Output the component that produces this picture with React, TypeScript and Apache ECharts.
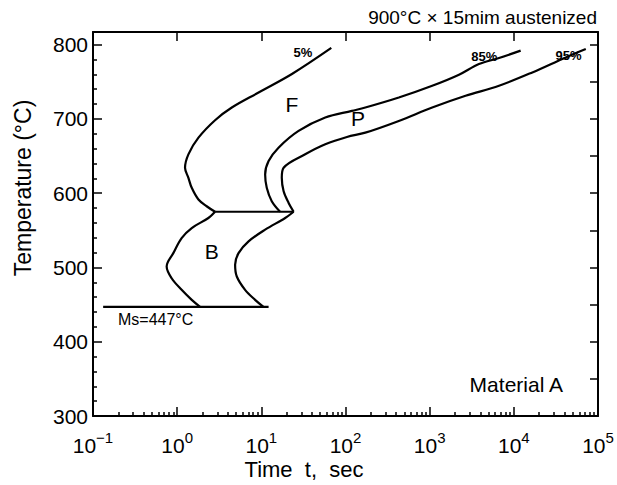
import React, { useEffect, useRef } from "react";
import * as echarts from "echarts";

// ---- data (time in seconds, temperature in °C) ----
const xExponents = [-1, 0, 1, 2, 3, 4, 5];
const yTickValues = [300, 400, 500, 600, 700, 800];
const yMin = 300;
const yMax = 817;

const ferriteStart5: [number, number][] = [
  [67.8, 795.5], [23.1, 760.4], [9.27, 735.5], [4.46, 715.3], [2.82, 698.2],
  [1.79, 674.7], [1.36, 652.3], [1.24, 634.2], [1.36, 620.7], [1.49, 607.2],
  [1.79, 591.5], [2.24, 582.4], [2.82, 575],
];
const bainiteStart: [number, number][] = [
  [2.82, 575], [2.35, 566.6], [1.49, 553.1], [1.13, 539.6], [0.9, 519.3],
  [0.75, 501.4], [0.86, 485.5], [1.13, 469.9], [1.49, 456.4], [1.87, 447],
];
const pearlite85: [number, number][] = [
  [12050, 791.9], [6670, 782], [3850, 773.9], [2230, 759.5], [1072, 744.6],
  [430, 728.8], [172, 715.3], [119, 710.8], [57.5, 701.8], [27.7, 683.8],
  [16.0, 661.2], [12.2, 643.2], [11.1, 625.3], [11.6, 607.2], [13.3, 589.2],
  [16.7, 575],
];
const pearlite95: [number, number][] = [
  [71600, 794], [41400, 782.8], [16600, 762.6], [6670, 744.6], [2670, 731.1],
  [1072, 715.3], [430, 697.3], [172, 681.5], [104, 675.7], [57.5, 665.8],
  [33.2, 652.3], [18.4, 634.2], [17.5, 620.7], [18.4, 602.7], [21.1, 586.9],
  [24.2, 575],
];
const bainiteFinish: [number, number][] = [
  [24.2, 575], [19.2, 566.6], [11.1, 550.9], [7.05, 535.1], [5.36, 519.3],
  [4.88, 503.6], [5.11, 487.8], [6.41, 469.9], [8.43, 456.4], [10.6, 447],
];
const noseLine: [number, number][] = [[2.82, 575], [24.2, 575]];
const msLine: [number, number][] = [[0.132, 447], [12.2, 447]];

const annotationTexts = ["5%", "85%", "95%", "F", "P", "B", "Ms=447°C", "Material A"];
const annotationTimes = [31.2, 4460, 44600, 23.1, 141, 2.58, 0.555, 10700];
const annotationTemps = [789, 784, 785, 719, 700, 522, 430, 343];

const titleText = "900°C × 15mim austenized";
const xName = "Time  t,  sec";
const yName = "Temperature (°C)";

const FONT = "'Liberation Sans', Arial, Helvetica, sans-serif";

const toLog = (pts: [number, number][]) => pts.map(([t, T]) => [Math.log10(t), T]);

const minorTickValues: number[] = [];
for (let n = xExponents[0]; n < xExponents[xExponents.length - 1]; n++) {
  for (let k = 2; k <= 9; k++) minorTickValues.push(n + Math.log10(k));
}

const annotationStyle = (text: string) => {
  if (text.endsWith("%")) return { fontSize: 13, fontWeight: "bold" as const };
  if (text.length === 1) return { fontSize: 21, fontWeight: "normal" as const };
  if (text.startsWith("Ms")) return { fontSize: 16, fontWeight: "normal" as const };
  return { fontSize: 21, fontWeight: "normal" as const };
};

export default function App() {
  const ref = useRef<HTMLDivElement>(null);
  useEffect(() => {
    if (!ref.current) return;
    const chart = echarts.init(ref.current, undefined, { renderer: "svg" });
    const lineSeries = (data: [number, number][], smooth: number) => ({
      type: "line",
      data: toLog(data),
      symbol: "none",
      smooth,
      lineStyle: { color: "#000", width: 2.2 },
      xAxisIndex: 0,
      yAxisIndex: 0,
      z: 5,
    });
    const black = { color: "#000", width: 2 };
    const tickStyle = { color: "#000", width: 1.5 };
    const option: any = {
      animation: false,
      backgroundColor: "#fff",
      grid: { left: 93, right: 19, top: 32, bottom: 69, containLabel: false, outerBoundsMode: "none" },
      xAxis: [
        {
          type: "value",
          position: "bottom",
          min: xExponents[0],
          max: xExponents[xExponents.length - 1],
          interval: 1,
          axisLine: { show: true, onZero: false, lineStyle: black },
          axisTick: { show: true, inside: true, length: 9, lineStyle: tickStyle },
          splitLine: { show: false },
          axisLabel: {
            margin: 14,
            showMinLabel: true,
            showMaxLabel: true,
            formatter: (v: number) => `{b|10}{s|${v < 0 ? "\u2212" + -v : v}}`,
            rich: {
              b: { fontSize: 21, fontFamily: FONT, color: "#000", lineHeight: 26, verticalAlign: "bottom" },
              s: { fontSize: 15, fontFamily: FONT, color: "#000", lineHeight: 14, verticalAlign: "top" },
            },
          },
        },
        {
          type: "value",
          position: "bottom",
          min: xExponents[0],
          max: xExponents[xExponents.length - 1],
          axisLine: { show: false, onZero: false },
          axisLabel: { show: false },
          splitLine: { show: false },
          axisTick: { show: true, inside: true, length: 4, customValues: minorTickValues, lineStyle: tickStyle },
        },
        {
          type: "value",
          position: "top",
          min: xExponents[0],
          max: xExponents[xExponents.length - 1],
          interval: 1,
          axisLine: { show: true, onZero: false, lineStyle: black },
          axisLabel: { show: false },
          splitLine: { show: false },
          axisTick: { show: true, inside: true, length: 9, lineStyle: tickStyle },
        },
      ],
      yAxis: [
        {
          type: "value",
          position: "left",
          min: yMin,
          max: yMax,
          interval: 100,
          axisLine: { show: true, onZero: false, lineStyle: black },
          axisTick: { show: true, inside: true, length: 9, lineStyle: tickStyle },
          minorTick: { show: true, splitNumber: 5, length: 4, lineStyle: tickStyle },
          splitLine: { show: false },
          axisLabel: {
            margin: 5,
            fontSize: 21,
            fontFamily: FONT,
            color: "#000",
            formatter: (v: number) => (yTickValues.includes(v) ? String(v) : ""),
          },
        },
        {
          type: "value",
          position: "right",
          min: yMin,
          max: yMax,
          interval: 50,
          axisLine: { show: true, onZero: false, lineStyle: black },
          axisTick: { show: true, inside: true, length: 8, lineStyle: tickStyle },
          axisLabel: { show: false },
          splitLine: { show: false },
        },
      ],
      series: [
        lineSeries(ferriteStart5, 0.35),
        lineSeries(bainiteStart, 0.35),
        lineSeries(pearlite85, 0.35),
        lineSeries(pearlite95, 0.35),
        lineSeries(bainiteFinish, 0.35),
        lineSeries(noseLine, 0),
        lineSeries(msLine, 0),
        {
          type: "scatter",
          xAxisIndex: 0,
          yAxisIndex: 0,
          symbol: "circle",
          symbolSize: 0,
          itemStyle: { color: "#000", opacity: 0 },
          z: 6,
          silent: true,
          data: annotationTexts.map((text, i) => ({
            value: [Math.log10(annotationTimes[i]), annotationTemps[i]],
            label: {
              show: true,
              position: "inside",
              formatter: text,
              color: "#000",
              opacity: 1,
              textBorderWidth: 0,
              fontFamily: FONT,
              ...annotationStyle(text),
            },
          })),
        },
      ],
      graphic: [
        {
          type: "text",
          right: 20,
          top: 8,
          style: { text: titleText, font: `19px ${FONT}`, fill: "#000" },
        },
        {
          type: "text",
          x: 23,
          y: 188,
          rotation: Math.PI / 2,
          style: { text: yName, font: `23px ${FONT}`, fill: "#000", align: "center", verticalAlign: "middle" },
        },
        {
          type: "text",
          x: 304,
          y: 469,
          style: { text: xName, font: `22px ${FONT}`, fill: "#000", align: "center", verticalAlign: "middle" },
        },
      ],
    };
    chart.setOption(option);
    return () => chart.dispose();
  }, []);
  return (
    <div
      ref={ref}
      style={{ position: "fixed", left: 0, top: 0, width: 617, height: 485, background: "#fff" }}
    />
  );
}
